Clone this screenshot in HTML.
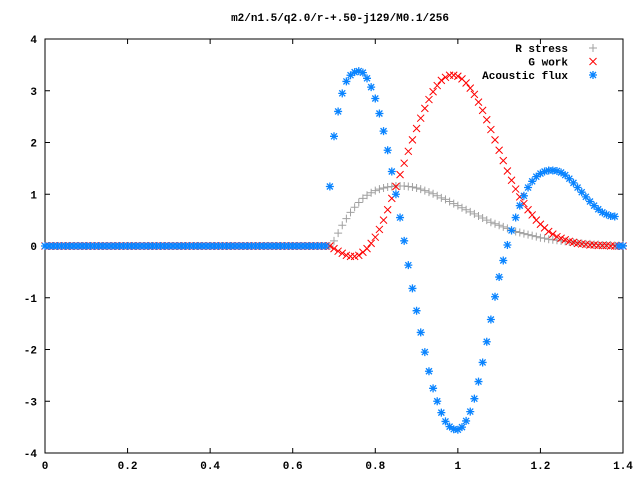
<!DOCTYPE html>
<html><head><meta charset="utf-8"><style>
html,body{margin:0;padding:0;background:#fff}
svg{display:block}
text{font-family:"Liberation Mono","DejaVu Sans Mono",monospace;font-size:11px;font-weight:bold;fill:#000}
</style></head><body>
<svg id="chart" width="640" height="480" viewBox="0 0 640 480" xmlns="http://www.w3.org/2000/svg">
<text x="340" y="21" text-anchor="middle">m2/n1.5/q2.0/r-+.50-j129/M0.1/256</text>
<g id="axes"></g>
<g id="marks"></g>
<g id="legend"></g>
</svg>
<script>
const xTicks = [0, 0.2, 0.4, 0.6, 0.8, 1, 1.2, 1.4];
const xTickLabels = ["0", "0.2", "0.4", "0.6", "0.8", "1", "1.2", "1.4"];
const yTicks = [-4, -3, -2, -1, 0, 1, 2, 3, 4];
const yTickLabels = ["-4", "-3", "-2", "-1", "0", "1", "2", "3", "4"];
const xStep = 0.01;
const flatCount = 69; // x = 0 .. 0.68 all zero
const rStress = [0,0.1,0.25,0.4,0.53,0.65,0.75,0.84,0.92,0.98,1.03,1.07,1.1,1.12,1.14,1.15,1.16,1.16,1.16,1.15,1.14,1.12,1.1,1.07,1.04,1.01,0.97,0.93,0.9,0.86,0.82,0.78,0.74,0.7,0.66,0.62,0.58,0.54,0.5,0.46,0.43,0.4,0.37,0.34,0.31,0.28,0.26,0.24,0.22,0.2,0.18,0.16,0.15,0.13,0.12,0.11,0.1,0.09,0.08,0.07,0.06,0.05,0.04,0.04,0.03,0.03,0.02,0.02,0.02,0.01,0.01,0.01];
const gWork = [0,-0.05,-0.1,-0.14,-0.18,-0.2,-0.2,-0.18,-0.12,-0.05,0.05,0.17,0.32,0.5,0.7,0.92,1.15,1.38,1.6,1.83,2.05,2.27,2.47,2.66,2.83,2.98,3.1,3.2,3.26,3.3,3.3,3.28,3.23,3.15,3.05,2.93,2.78,2.62,2.44,2.25,2.05,1.85,1.65,1.45,1.27,1.1,0.95,0.82,0.7,0.6,0.5,0.42,0.35,0.28,0.23,0.18,0.15,0.12,0.09,0.07,0.05,0.04,0.03,0.02,0.02,0.01,0.01,0.01,0,0,0,0];
const acoustic = [1.15,2.12,2.6,2.95,3.18,3.3,3.36,3.38,3.35,3.24,3.07,2.85,2.56,2.22,1.85,1.44,1.0,0.55,0.1,-0.37,-0.82,-1.25,-1.67,-2.05,-2.42,-2.75,-3.0,-3.22,-3.39,-3.49,-3.54,-3.55,-3.5,-3.38,-3.2,-2.95,-2.62,-2.25,-1.85,-1.42,-0.98,-0.6,-0.28,0.02,0.3,0.55,0.78,0.97,1.13,1.25,1.34,1.4,1.44,1.46,1.46,1.45,1.42,1.37,1.3,1.22,1.13,1.04,0.95,0.86,0.78,0.71,0.65,0.61,0.58,0.57,0,0];

const L=45, R=623, T=39, B=453;
const xS = v => L + (v-0)/(1.4-0)*(R-L);
const yS = v => B - (v+4)/8*(B-T);
const NS="http://www.w3.org/2000/svg";
function mk(tag, attrs, parent){const e=document.createElementNS(NS,tag);for(const k in attrs)e.setAttribute(k,attrs[k]);parent.appendChild(e);return e;}
const axes=document.getElementById('axes'), marks=document.getElementById('marks'), legend=document.getElementById('legend');

const border = mk('rect',{x:L,y:T,width:R-L,height:B-T,fill:'none',stroke:'#000','stroke-width':1},axes);


xTicks.forEach((t,i)=>{
  const x=xS(t);
  const tk=mk('path',{d:`M${x},${B}v-5M${x},${T}v5`,stroke:'#000','stroke-width':1},axes);
  
  
  const lb=mk('text',{x:x,y:B+16,'text-anchor':'middle'},axes);
  lb.textContent=xTickLabels[i];
  
  
});
yTicks.forEach((t,i)=>{
  const y=yS(t);
  const tk=mk('path',{d:`M${L},${y}h5M${R},${y}h-5`,stroke:'#000','stroke-width':1},axes);
  
  
  const lb=mk('text',{x:L-8,y:y+4,'text-anchor':'end'},axes);
  lb.textContent=yTickLabels[i];
  
  
});

function plus(x,y,c,g){return mk('path',{d:`M${x-4},${y}h8M${x},${y-4}v8`,stroke:c,'stroke-width':1,fill:'none'},g);}
function cross(x,y,c,g){return mk('path',{d:`M${x-3.5},${y-3.5}l7,7M${x-3.5},${y+3.5}l7,-7`,stroke:c,'stroke-width':1,fill:'none'},g);}
function star(x,y,c,g){return mk('path',{d:`M${x-4},${y}h8M${x},${y-4}v8M${x-3},${y-3}l6,6M${x-3},${y+3}l6,-6`,stroke:c,'stroke-width':1.3,fill:'none'},g);}

const series=[
  {name:'r-stress',vals:rStress,color:'#a0a0a0',fn:plus,label:'R stress'},
  {name:'g-work',vals:gWork,color:'#ff0000',fn:cross,label:'G work'},
  {name:'acoustic-flux',vals:acoustic,color:'#0a84ff',fn:star,label:'Acoustic flux'}
];
series.forEach((s,si)=>{
  const g=mk('g',{},marks);
  
  
  const full=new Array(flatCount).fill(0).concat(s.vals);
  full.forEach((v,i)=>{
    const p=s.fn(xS(i*xStep),yS(v),s.color,g);
    
    
  });
  const ly=48+si*13.5;
  const lt=mk('text',{x:568,y:ly+4,'text-anchor':'end'},legend);
  lt.textContent=s.label;
  
  
  const lm=s.fn(593,ly,s.color,legend);
  
  
});
</script>
</body></html>
